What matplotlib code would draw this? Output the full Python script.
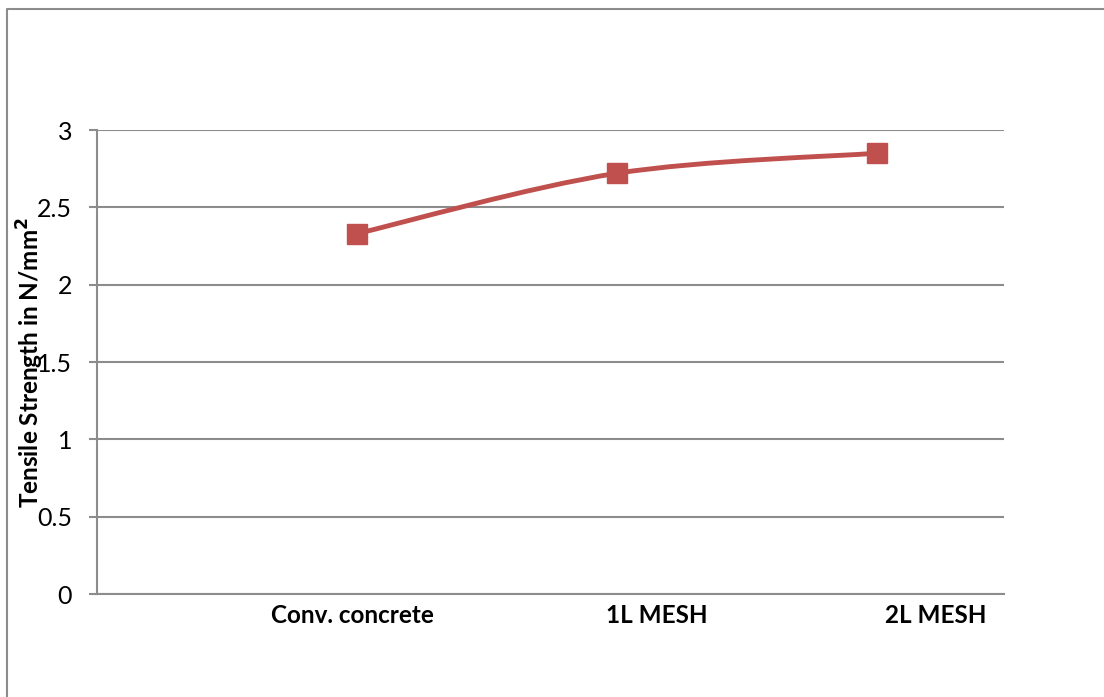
import numpy as np
import matplotlib
matplotlib.use("Agg")
import matplotlib.pyplot as plt
import matplotlib.transforms as mtransforms
from matplotlib.path import Path
from matplotlib.patches import PathPatch

categories = ["Conv. concrete", "1L MESH", "2L MESH"]
values = [2.33, 2.72, 2.85]
yticks = [0, 0.5, 1, 1.5, 2, 2.5, 3]
ytick_labels = ["0", "0.5", "1", "1.5", "2", "2.5", "3"]

W, H = 1104, 697
dpi = 100
fig = plt.figure(figsize=(W / dpi, H / dpi), dpi=dpi)
plt.rcParams['font.family'] = ['Lato', 'DejaVu Sans']

grey = "#8c8c8c"
red = "#C0504D"

# axes placement (pixels)
left, right, top, bottom = 97, 1004, 130, 594
ax = fig.add_axes([left / W, 1 - bottom / H, (right - left) / W, (bottom - top) / H])

xs = np.arange(1, len(values) + 1)
ax.set_xlim(0.0, 3.49)
ax.set_ylim(0, 3)

# smooth curve (Excel-style Bezier smoothing through the points)
pts = np.column_stack([xs, values]).astype(float)
verts = [tuple(pts[0])]
codes = [Path.MOVETO]
t = 1 / 6
for i in range(len(pts) - 1):
    p0 = pts[i - 1] if i > 0 else pts[i]
    p1 = pts[i]
    p2 = pts[i + 1]
    p3 = pts[i + 2] if i + 2 < len(pts) else pts[i + 1]
    c1 = p1 + (p2 - p0) * t
    c2 = p2 - (p3 - p1) * t
    verts += [tuple(c1), tuple(c2), tuple(p2)]
    codes += [Path.CURVE4] * 3
patch = PathPatch(Path(verts, codes), facecolor="none", edgecolor=red, lw=3.5,
                  capstyle="round", zorder=3)
ax.add_patch(patch)
ax.plot(xs, values, linestyle="none", marker="s", markersize=14,
        color=red, markeredgecolor=red, zorder=4)

# grid
ax.set_yticks(yticks)
ax.set_yticklabels(ytick_labels, fontsize=18)
ax.yaxis.grid(True, color=grey, lw=1.5)
ax.set_axisbelow(True)
ax.tick_params(axis="y", direction="out", length=6, width=1.5, color=grey, pad=12,
               labelcolor="black")
for s in ["top", "right"]:
    ax.spines[s].set_visible(False)
ax.spines["left"].set_color(grey)
ax.spines["left"].set_linewidth(1.5)
ax.spines["bottom"].set_color(grey)
ax.spines["bottom"].set_linewidth(1.5)

ax.set_xticks(xs)
ax.set_xticklabels(categories, fontsize=17.5, fontweight="bold")
ax.tick_params(axis="x", length=0, pad=7)
offsets = [-4, 40, 59]
for lab, dx in zip(ax.get_xticklabels(), offsets):
    lab.set_transform(lab.get_transform() + mtransforms.Affine2D().translate(dx, 0))

fig.text(30 / W, 1 - 362 / H, "Tensile Strength in N/mm$^\\mathbf{2}$", rotation=90,
         ha="center", va="center", fontsize=17.5, fontweight="bold")

# outer chart frame (top and left edges visible)
fig.add_artist(plt.Line2D([7 / W, 7 / W, 1.0], [0.0, 1 - 9 / H, 1 - 9 / H],
                          transform=fig.transFigure, color=grey, lw=1.5))

fig.savefig("out.png", dpi=dpi)
